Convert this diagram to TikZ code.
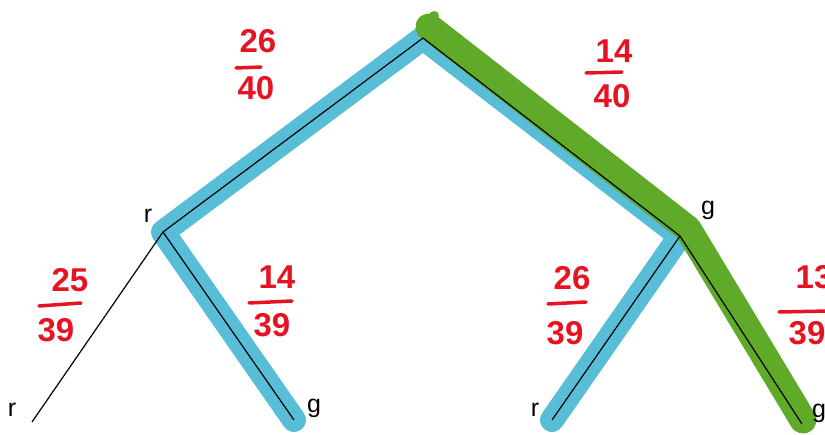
\documentclass[tikz,border=0pt]{standalone}
\usepackage{fontspec}
\setmainfont{Liberation Sans}
\definecolor{hlblue}{RGB}{88,190,216}
\definecolor{hlgreen}{RGB}{96,170,42}
\definecolor{penred}{RGB}{230,20,35}
\tikzset{
  bluehl/.style={draw=hlblue, line width=24pt, line cap=round, line join=round},
  greenhl/.style={draw=hlgreen, line width=27pt, line cap=round, line join=round},
  branch/.style={draw=black, line width=1.2pt},
  leaf/.style={font=\fontsize{25}{27}\selectfont, text=black, inner sep=0pt},
  num/.style={font=\fontsize{33}{35}\selectfont\bfseries, text=penred, inner sep=0pt},
  fbar/.style={draw=penred, line width=3.5pt, line cap=round}
}
\begin{document}
\begin{tikzpicture}[x=1pt,y=-1pt]
\useasboundingbox (0,0) rectangle (825,435);
% tree points
\coordinate (root) at (423,38);
\coordinate (nr) at (163,232);
\coordinate (ng) at (680,236);
\coordinate (lrr) at (32,422);
\coordinate (lrg) at (294,420);
\coordinate (lgr) at (552,420);
\coordinate (lgg) at (802,424);
% green path (slightly offset)
\coordinate (groot) at (429,27);
\coordinate (gng) at (688,229);
\coordinate (glgg) at (803,420);
% highlights
\draw[bluehl] (lrg) -- (nr) -- (root) -- (ng) -- (lgr);
\draw[greenhl] (groot) -- (gng) -- (glgg);
\fill[hlgreen] (434,16) circle (5pt);
% branches
\draw[branch] (root) -- (nr);
\draw[branch] (root) -- (ng);
\draw[branch] (nr) -- (lrr);
\draw[branch] (nr) -- (lrg);
\draw[branch] (ng) -- (lgr);
\draw[branch] (ng) -- (lgg);
% labels
\node[leaf] (tr) at (148,216) {r};
\node[leaf] (tg) at (708,210) {g};
\node[leaf] (t1) at (12,410) {r};
\node[leaf] (t2) at (314,408) {g};
\node[leaf] (t3) at (535,410) {r};
\node[leaf] (t4) at (819,413) {g};
% fractions
\node[num] (a1) at (258,41) {26};
\draw[fbar] (236,68) -- (261,67);
\node[num] (a2) at (256,88) {40};
\node[num] (b1) at (614,51) {14};
\draw[fbar] (586,73) -- (622,72);
\node[num] (b2) at (612,96) {40};
\node[num] (c1) at (70,280) {25};
\draw[fbar] (39,306) -- (81,303);
\node[num] (c2) at (56,330) {39};
\node[num] (d1) at (277,277) {14};
\draw[fbar] (249,303) -- (292,301);
\node[num] (d2) at (272,325) {39};
\node[num] (e1) at (572,278) {26};
\draw[fbar] (548,304) -- (586,302);
\node[num] (e2) at (565,333) {39};
\node[num] (f1) at (814,277) {13};
\draw[fbar] (779,312) -- (830,311);
\node[num] (f2) at (807,333) {39};
\end{tikzpicture}
\end{document}
